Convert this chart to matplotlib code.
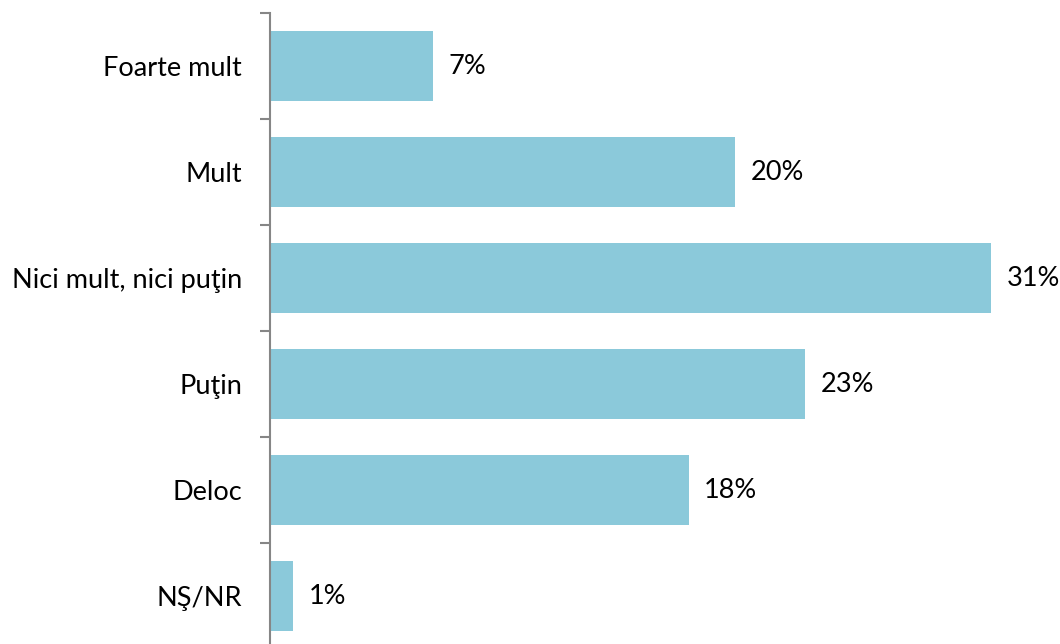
import matplotlib.pyplot as plt
from matplotlib.ticker import FixedLocator

# data
categories = ["Foarte mult", "Mult", "Nici mult, nici puţin", "Puţin", "Deloc", "NŞ/NR"]
values = [7, 20, 31, 23, 18, 1]
labels = ["7%", "20%", "31%", "23%", "18%", "1%"]

plt.rcParams["font.family"] = ["Lato", "DejaVu Sans"]

fig = plt.figure(figsize=(10.6, 6.44), dpi=100)
# axes placed in pixels: left spine at x=270, top at y=13
ax = fig.add_axes([270 / 1060, 0, 790 / 1060, (644 - 13) / 644])

pos = list(range(len(categories)))
ax.barh(pos, values, height=0.655, color="#8BC9DA", edgecolor="none")

for p, v, lab in zip(pos, values, labels):
    ax.annotate(lab, (v, p), xytext=(11, 0), textcoords="offset points",
                ha="left", va="center", fontsize=19.5, color="black")

ax.set_xlim(0, 790 / 23.26)
ax.set_ylim(-0.5 + 631 / 106, -0.5)

ax.set_yticks(pos)
ax.set_yticklabels(categories, fontsize=19.5)
ax.yaxis.set_minor_locator(FixedLocator([p - 0.5 for p in pos] + [5.5]))
ax.tick_params(axis="y", which="major", length=0, pad=20)
ax.tick_params(axis="y", which="minor", length=7, width=1.5, color="#868686")
ax.set_xticks([])

for s in ["top", "right", "bottom"]:
    ax.spines[s].set_visible(False)
ax.spines["left"].set_color("#868686")
ax.spines["left"].set_linewidth(1.5)

fig.savefig("out.png", dpi=100)
